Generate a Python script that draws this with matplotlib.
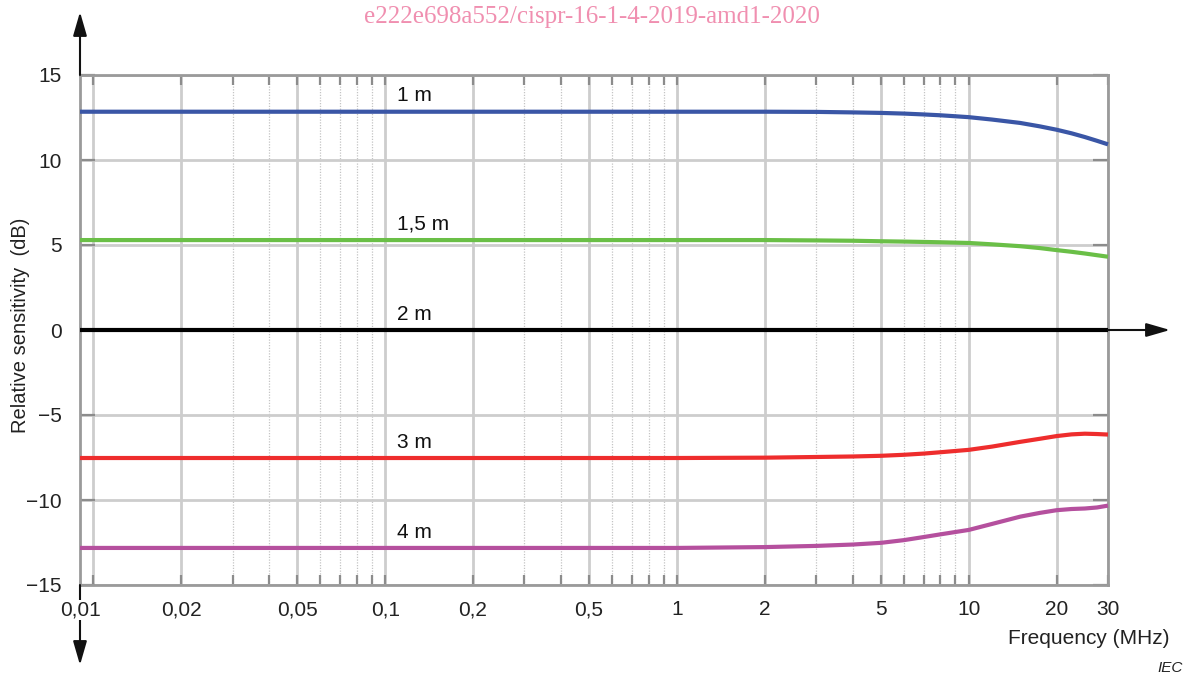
import numpy as np
import matplotlib
matplotlib.use("Agg")
import matplotlib.pyplot as plt
from matplotlib.ticker import FixedLocator, NullFormatter
from matplotlib.transforms import blended_transform_factory

plt.rcParams["font.family"] = ["Liberation Sans", "DejaVu Sans"]

# Frequency axis (MHz) and relative sensitivity (dB) per antenna height
freq = [0.009, 1, 2, 3, 4, 5, 6, 7, 8, 10, 12, 15, 17.5, 20, 22.5, 25, 27.5, 30]
sens_1m = [12.84, 12.84, 12.84, 12.83, 12.80, 12.77, 12.73, 12.68, 12.63, 12.52, 12.38,
           12.18, 11.98, 11.78, 11.57, 11.35, 11.13, 10.92]
sens_1_5m = [5.29, 5.29, 5.29, 5.27, 5.25, 5.22, 5.20, 5.18, 5.16, 5.12, 5.04,
             4.93, 4.82, 4.70, 4.60, 4.50, 4.40, 4.31]
sens_2m = [0] * len(freq)
sens_3m = [-7.53, -7.53, -7.51, -7.47, -7.44, -7.40, -7.34, -7.27, -7.19, -7.05, -6.86,
           -6.58, -6.40, -6.24, -6.14, -6.10, -6.12, -6.15]
sens_4m = [-12.82, -12.82, -12.77, -12.70, -12.62, -12.52, -12.36, -12.18, -12.02, -11.76,
           -11.41, -10.98, -10.76, -10.60, -10.53, -10.50, -10.44, -10.33]

series_labels = ["1 m", "1,5 m", "2 m", "3 m", "4 m"]
series_values = [sens_1m, sens_1_5m, sens_2m, sens_3m, sens_4m]
series_colors = ["#3a56a6", "#6abf47", "#000000", "#ee2d2d", "#b5509e"]

x_major = [0.01, 0.02, 0.05, 0.1, 0.2, 0.5, 1, 2, 5, 10, 20, 30]
x_major_labels = ["0,01", "0,02", "0,05", "0,1", "0,2", "0,5", "1", "2", "5", "10", "20", "30"]
x_minor = [m * d for d in (0.01, 0.1, 1, 10) for m in (3, 4, 6, 7, 8, 9) if m * d < 30]
y_ticks = [-15, -10, -5, 0, 5, 10, 15]
y_tick_labels = ["\u221215", "\u221210", "\u22125", "0", "5", "10", "15"]

fig = plt.figure(figsize=(11.88, 6.75), dpi=100)
ax = fig.add_axes([80 / 1188, 90 / 675, 1028 / 1188, 510 / 675])

ax.set_xscale("log")
ax.set_xlim(freq[0], 30)
ax.set_ylim(-15, 15)

# grid
ax.xaxis.set_major_locator(FixedLocator(x_major))
ax.xaxis.set_minor_locator(FixedLocator(x_minor))
ax.xaxis.set_minor_formatter(NullFormatter())
ax.set_xticks(x_major, [""] + x_major_labels[1:])
ax.set_yticks(y_ticks, y_tick_labels)
ax.grid(which="major", axis="both", color="#cdcdcd", lw=2.0, ls="-", zorder=0)
ax.grid(which="minor", axis="x", color="#c4c4c4", lw=0.9, ls=(0, (1, 1.2)), zorder=0)
ax.set_axisbelow(True)

ax.tick_params(axis="x", which="both", direction="in", top=True, bottom=True,
               length=7, width=1.6, color="#8c8c8c", labelsize=15, pad=11,
               labelcolor="#222222")
ax.tick_params(axis="y", which="major", direction="in", left=True, right=True,
               length=11, width=1.6, color="#8c8c8c", labelsize=15, pad=13,
               labelcolor="#222222")

for side, sp in ax.spines.items():
    sp.set_color("#9a9a9a")
    sp.set_linewidth(2.0)

# curves and their labels
for lab, vals, col in zip(series_labels, series_values, series_colors):
    ax.plot(freq, vals, color=col, lw=3.0, solid_capstyle="butt",
            solid_joinstyle="round", zorder=3, clip_on=False)
    ax.annotate(lab, xy=(0.11, vals[0]), xytext=(0, 7.5), textcoords="offset points",
                ha="left", va="baseline", fontsize=15, color="#111111", zorder=4)

# axis arrows outside the frame
arrow = dict(arrowstyle="-|>,head_length=1.45,head_width=0.42", color="#111111",
             lw=1.5, shrinkA=0, shrinkB=0, mutation_scale=10)
ax.annotate("", xy=(0, 1 + 63 / 510), xytext=(0, 1), xycoords="axes fraction",
            textcoords="axes fraction", arrowprops=arrow, annotation_clip=False)
ax.annotate("", xy=(0, -80 / 510), xytext=(0, 0), xycoords="axes fraction",
            textcoords="axes fraction", arrowprops=arrow, annotation_clip=False)
ax.annotate("", xy=(1 + 62 / 1028, 0), xytext=(1, 0), xycoords=("axes fraction", "data"),
            textcoords=("axes fraction", "data"), arrowprops=arrow, annotation_clip=False)

# first tick label sits on the left edge of the axis, over the arrow line
trans = blended_transform_factory(ax.transData, ax.transAxes)
ax.annotate(x_major_labels[0], xy=(freq[0], 0), xycoords=trans, xytext=(0, -11),
            textcoords="offset points", ha="center", va="top",
            fontsize=15, color="#222222", annotation_clip=False, zorder=10,
            bbox=dict(facecolor="white", edgecolor="none", pad=0.5))

fig.text(21 / 1188, 1 - 325 / 675, "Relative sensitivity  (dB)", rotation=90,
         ha="center", va="center", fontsize=14.5, color="#222222")
fig.text(1170 / 1188, 1 - 639 / 675, "Frequency (MHz)", ha="right", va="center",
         fontsize=15, color="#222222")
fig.text(1183 / 1188, 1 - 668 / 675, "IEC", ha="right", va="center",
         fontsize=11, style="italic", color="#222222")
fig.text(592 / 1188, 1 - 17 / 675, "e222e698a552/cispr-16-1-4-2019-amd1-2020",
         ha="center", va="center", fontsize=18, color="#f08fb0",
         family=["Liberation Serif", "DejaVu Serif"])

fig.savefig("out.png", dpi=100)
